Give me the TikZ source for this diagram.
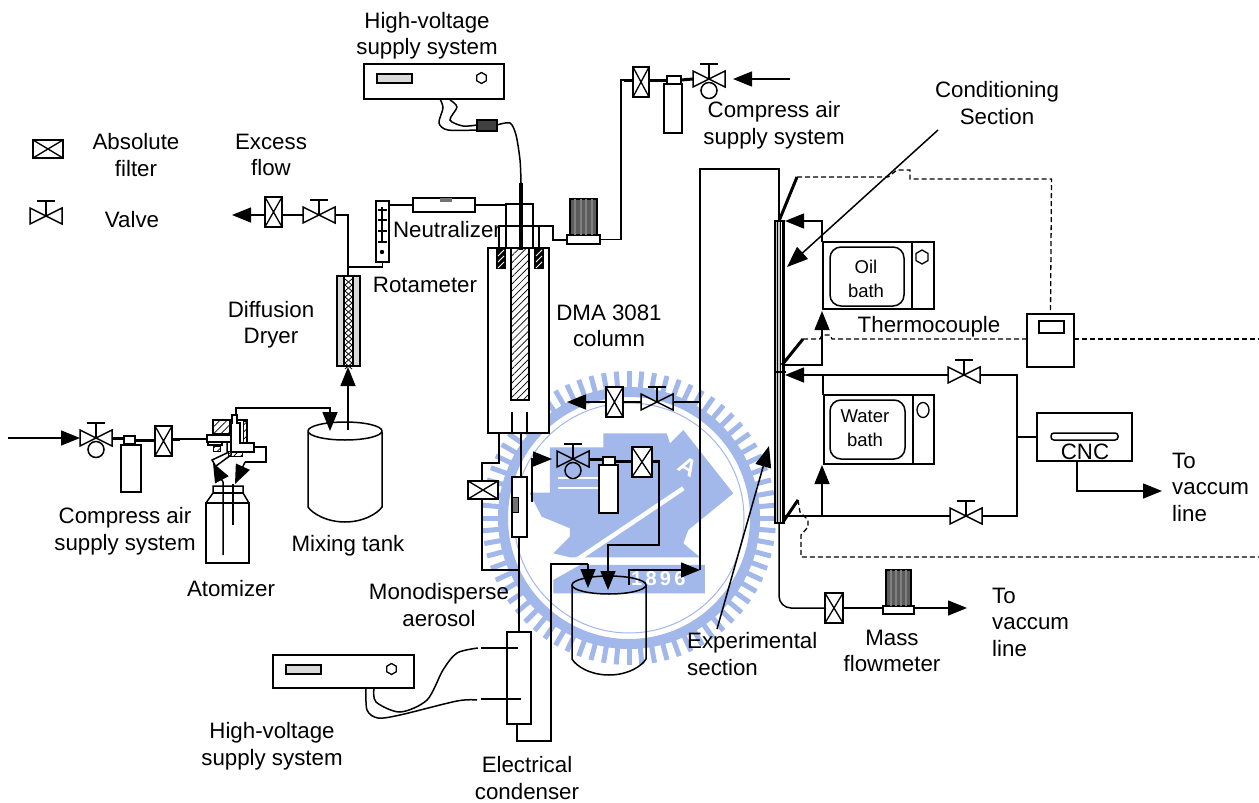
\documentclass[tikz,border=0pt]{standalone}
\usepackage{fontspec}
\setmainfont{Liberation Sans}
\usetikzlibrary{arrows.meta,patterns,patterns.meta,shapes.geometric,calc}
\definecolor{wmblue}{RGB}{162,184,234}
\tikzset{
  pipe/.style={line width=1.5pt,line join=miter},
  eq/.style={line width=1.5pt,line join=miter},
  heavy/.style={line width=3pt},
  flow/.style={pipe,-{Triangle[length=19pt,width=15pt]}},
  bx/.style={draw=black,line width=1.5pt,fill=white,rectangle,inner sep=0pt,outer sep=0pt},
  flt/.style={path picture={\draw[line width=1.3pt] (path picture bounding box.south west)--(path picture bounding box.north east) (path picture bounding box.north west)--(path picture bounding box.south east);}},
  vnode/.style={rectangle,inner sep=0pt,outer sep=0pt,minimum width=32pt,minimum height=16pt},
  lbl/.style={align=center,inner sep=0pt,font=\fontsize{22.3}{26.5}\selectfont},
  lbll/.style={align=left,inner sep=0pt,font=\fontsize{22.3}{26.5}\selectfont},
  small/.style={align=center,inner sep=0pt,font=\fontsize{18.5}{24.5}\selectfont},
  tc/.style={line width=1.3pt,dash pattern=on 5pt off 3pt},
  wm/.style={draw=wmblue},
  dots/.style={fill=gray!30},
  darkcol/.style={fill=black!64},
  hatch/.style={pattern={Lines[angle=45,distance=5pt,line width=.7pt]}},
}
\newcommand\rectnode[6][]{%
  \pgfmathsetmacro\rwid{#5-#3}\pgfmathsetmacro\rhei{#6-#4}%
  \node[bx,minimum width=\rwid pt,minimum height=\rhei pt,#1] (#2) at ({(#3+#5)/2},{(#4+#6)/2}) {};}
\newcommand\valve[3]{%
  \node[vnode] (#1) at (#2,#3) {};
  \draw[eq] (#1.south west)--(#1.north east)--(#1.south east)--(#1.north west)--cycle;
  \draw[eq] (#1.center)--++(0,-15) ++(-9,0)--++(18,0);}
\newcommand\regvalve[3]{\valve{#1}{#2}{#3}\draw[eq] (#2,#3+11.5) circle[radius=8pt];}
\newcommand\meter[5]{% name, base x1,y1,x2,y2 (column on top)
  \rectnode{#1}{#2}{#3}{#4}{#5}
  \pgfmathsetmacro\mcl{#2+3}\pgfmathsetmacro\mcr{#4-3}\pgfmathsetmacro\mct{#3-36}%
  \rectnode[darkcol]{#1col}{\mcl}{\mct}{\mcr}{#3}
  \foreach \q in {0.2,0.4,0.6,0.8}{\draw[black!50,line width=2pt] ($(\mcl,\mct)!\q!(\mcr,\mct)$) -- ($(\mcl,#3)!\q!(\mcr,#3)$);}}
\newcommand\supplybox[5]{% name, x1,y1,x2,y2
  \rectnode{#1}{#2}{#3}{#4}{#5}
  \pgfmathsetmacro\dxa{#2+13}\pgfmathsetmacro\dxb{#2+48}\pgfmathsetmacro\dya{#3+10}\pgfmathsetmacro\dyb{#3+19}\pgfmathsetmacro\hxx{#4-22.5}\pgfmathsetmacro\hyy{#3+14}%
  \rectnode[dots,line width=1.2pt]{#1d}{\dxa}{\dya}{\dxb}{\dyb}
  \node[regular polygon,regular polygon sides=6,shape border rotate=90,draw,line width=1.3pt,inner sep=0pt,minimum size=11pt] (#1k) at (\hxx,\hyy) {};}
\begin{document}
\begin{tikzpicture}[x=1pt,y=-1pt]
\useasboundingbox (0,0) rectangle (1259,803);
\fill[white] (0,0) rectangle (1259,803);
% ---------- watermark
\begin{scope}[shift={(629,518)}]
  \foreach \a in {0,5,...,355}{\draw[wm,line width=5pt] (\a:128pt)--(\a:147pt);}
  \draw[wm,line width=10pt] (0,0) circle[radius=126pt];
  \draw[wm,line width=1pt] (0,0) circle[radius=115pt];
\end{scope}
\begin{scope}[shift={(470,360)},x=0.3333pt,y=-0.3333pt]
  \fill[wmblue] (178,398)--(240,398)--(240,262)--(400,262)--(400,220)--(590,220)--(600,250)--(640,210)--(790,400)--(655,510)--(640,550)--(690,592)--(300,592)--(250,580)--(300,530)--(300,505)--(215,470)--cycle;
  \fill[wmblue] (330,615)--(705,615)--(705,700)--(250,700)--(250,660)--cycle;
  \draw[white,line width=4.5pt] (320,600)--(640,385);
  \draw[white,line width=2pt] (265,355)--(385,355) (265,385)--(385,385);
  \node[text=white,rotate=-30,inner sep=0pt,font=\bfseries\fontsize{24}{24}\selectfont] (wmA) at (655,320) {A};
  \node[text=white,inner sep=0pt,font=\bfseries\fontsize{20}{20}\selectfont] (wmY) at (565,657) {1\,8\,9\,6};
\end{scope}
% ---------- left: compressed air, atomizer, mixing tank
\coordinate (airL) at (8,438);
\regvalve{vL}{96}{438}
\draw[flow] (airL)--(vL.west);
\rectnode{regL}{124}{436}{135}{444}
\rectnode{cylL}{121}{445}{141}{492}
\rectnode[flt]{fL}{155}{426}{172}{456}
\draw[heavy] (vL.east)--(vL.east -| regL.west);
\draw[heavy] (regL.east)--(regL.east -| fL.west);
% atomizer head
\coordinate (noz) at (207,439);
\draw[heavy] (fL.east |- noz)--++(8,0);
\draw[pipe] (fL.east |- noz)--(noz);
\draw[eq,hatch] (213,420) rectangle (230,434);
\draw[eq] (213,420)--(247,420)--(247,443);
\draw[hatch] (243,421) rectangle (247,443);
\draw[hatch] (228,451) rectangle (242,456);
\draw[hatch] (213,446) rectangle (220,451);
\draw[eq,fill=white] (232,415)--(237,415)--(237,423)--(240,423)--(240,443)--(254,443)--(254,452)--(231,452)--(231,423)--(232,423)--cycle;
\node[bx,minimum width=24pt,minimum height=7pt] (nozb) at (219,438.5) {};
\draw[eq] (208,442) rectangle (222,445);
\draw[eq] (227,442)--(227,453)--(212,460)--(215,465);
\draw[eq] (231,442)--(231,455)--(216,466);
\draw[flow] (223,555)--(223,482)--(213,463);
\draw[pipe] (254,447)--(266,447)--(266,462)--(245,462);
\draw[flow] (245,462)--(235,484);
\coordinate (bottleIn) at (233,525);
\draw[pipe] (bottleIn)--(233,484);
\draw[eq] (206,503)--(206,563)--(249,563)--(249,503)--cycle;
\draw[eq] (206,503)--(213,493)--(213,486)--(243,486)--(243,493)--(249,503);
\draw[eq] (213,493)--(243,493);
% mixing tank
\draw[eq] (308,432)--(308,507) .. controls (312,513) and (326,522) .. (345,522) .. controls (364,522) and (378,513) .. (382,507)--(382,432);
\draw[eq] (345,431) ellipse[x radius=37pt,y radius=9pt];
\coordinate (mixIn) at (330,431);
\coordinate (mixOut) at (348,430);
\draw[flow] (236,415)--(236,408)--(330,408)--(mixIn);
% diffusion dryer
\rectnode[dots]{dry}{337}{276}{360}{366}
\fill[white] (344,277) rectangle (353,365);
\draw[line width=1.4pt] (344,276)--(344,366) (353,276)--(353,366);
\foreach \yy in {279,285,...,363}{\draw[line width=.8pt] (345,\yy)--(352,\yy+6) (352,\yy)--(345,\yy+6);}
\draw[flow] (mixOut)--(348,367);
% rotameter
\rectnode{rot}{376}{201}{389}{262}
\draw[line width=1.3pt] (382,207)--(382,243);
\foreach \yy in {210,220,231,242}{\draw[line width=1.3pt] (377.5,\yy)--(386.5,\yy);}
\fill (382,252) circle[radius=2.2pt];
\valve{vEx}{319}{215}
\rectnode[flt]{fEx}{265}{197}{282}{227}
\coordinate (exOut) at (232,215);
\draw[pipe] (vEx.east)--(348,215)--(348,276);
\draw[pipe] (rot.south)--(382.5,267)--(348,267);
\draw[pipe] (vEx.west)--(vEx.west -| fEx.east);
\draw[flow] (exOut -| fEx.west)--(exOut);
% ---------- top HV supply
\supplybox{hvT}{364}{64}{504}{99}
\rectnode[fill=black!75]{hvClip}{477}{120}{497}{131}
\draw[eq] plot[smooth] coordinates {(440,99) (443,108) (439,123) (448,130) (477,130)};
\draw[eq] plot[smooth] coordinates {(450,100) (457,107) (450,120) (463,126) (477,125)};
\coordinate (rodTop) at (521,183);
\draw[eq] plot[smooth] coordinates {(497,125) (510,123) (516,135) (520,160) (521,183)};
% neutralizer
\rectnode{neu}{413}{198}{475}{212}
\fill[black!55] (440,198) rectangle (452,201.5);
\draw[pipe] (neu.west -| rot.east)--(neu.west);
% DMA
\rectnode{dma}{488}{248}{549}{433}
\rectnode[hatch]{rodI}{511}{248}{529}{400}
\rectnode[fill=black]{sl1}{497}{248}{505}{268}
\rectnode[fill=black]{sl2}{535}{248}{543}{268}
\foreach \sx in {497,535}{\foreach \sy in {250,256,262}{\draw[white,line width=.9pt] (\sx+1,\sy+6)--(\sx+7,\sy);}}
\draw[pipe] (neu.east)--(506,205);
\draw[pipe] (506,248)--(506,204)--(533,204)--(533,248);
\coordinate (rodB) at (521,250);
\draw[line width=4pt] (rodTop)--(rodB);
\draw[pipe] (499,248)--(499,226)--(553,226)--(553,240)--(567,240);
\draw[pipe] (539,226)--(539,248);
\draw[pipe] (512,412)--(512,433) (527,412)--(527,433);
% flowmeter top
\meter{fmT}{567}{235}{600}{244}
\rectnode[flt]{fT}{633}{67}{649}{97}
\rectnode{regT}{667}{76}{681}{84}
\rectnode{cylT}{664}{84}{682}{133}
\valve{vT}{709}{79}
\draw[eq] (709,90.5) circle[radius=8pt];
\coordinate (airT) at (790,79);
\draw[flow] (airT)--(733,79);
\draw[heavy] (regT.east)--(vT.west);
\draw[heavy] (regT.west)--(regT.west -| fT.east);
\draw[pipe] (600,239.5)--(621,239.5)--(621,80)--(632,80);
\draw[heavy] (624,80)--(632,80);
% ---------- below DMA
\rectnode[flt]{fB}{468}{481}{498}{499}
\draw[pipe] (499,433)--(499,463)--(482,463)--(482,481);
\draw[pipe] (482,499)--(482,570)--(519,570);
\rectnode{ion}{512}{477}{527}{537}
\fill[black!55] (512,497) rectangle (518,512);
\draw (512,497) rectangle (518,512);
\draw[pipe] (521,433)--(521,477);
\rectnode{cond}{507}{632}{531}{724}
\draw[pipe] (519,537)--(519,632);
\draw[pipe] (517,724)--(517,741)--(551,741)--(551,564)--(588,564);
% small air system
\regvalve{vM}{573}{459}
\rectnode{regM}{603}{457}{615}{465}
\rectnode{cylM}{599}{465}{618}{513}
\rectnode[flt]{fM}{632}{447}{652}{477}
\coordinate (ionOut) at (532,502);
\draw[flow] (ionOut)--(532,459)--(552,459);
\draw[heavy] (vM.east)--(vM.east -| regM.west);
\draw[heavy] (regM.east)--(regM.east -| fM.west);
\draw[heavy] (652,461)--(660,461);
% condensation tank
\draw[eq] (572,585)--(572,659) .. controls (576,666) and (590,675) .. (609,675) .. controls (628,675) and (642,666) .. (646,659)--(646,585);
\draw[eq] (609,585) ellipse[x radius=37pt,y radius=9pt];
\draw[flow] (659,461)--(659,545)--(608,545)--(608,590);
\draw[flow] (588,564)--(588,588);
\draw[flow] (629,585)--(629,570)--(700,570);
% condenser wires & box
\coordinate (c1) at (518,648);
\coordinate (c2) at (521,699);
\draw[pipe] (481,648)--(c1);
\draw[pipe] (481,699)--(c2);
\supplybox{hvB}{273}{655}{414}{688}
\draw[eq] plot[smooth] coordinates {(366,687) (367,710) (378,718) (400,715) (457,701) (477,700)};
\draw[eq] plot[smooth] coordinates {(374,688) (376,702) (400,712) (427,700) (443,670) (457,653) (478,648)};
% ---------- exp column feed
\coordinate (colTop) at (779,221);
\draw[pipe] (700,570)--(700,169)--(779,169)--(colTop);
\valve{vD}{657}{402}
\rectnode[flt]{fD}{606}{387}{623}{417}
\coordinate (dmaIn) at (567,402);
\draw[pipe] (700,402)--(vD.east);
\draw[pipe] (vD.west)--(fD.east);
\draw[flow] (fD.west)--(dmaIn);
% column
\rectnode{col}{775}{221}{784}{523}
\fill[gray!45] (775,221) rectangle (780,523);
\draw[line width=1.2pt] (775,221) rectangle (784,523);
\draw[line width=1pt] (777.5,221)--(777.5,523) (780,221)--(780,523) (782,221)--(782,523);
\draw[line width=2pt] (775,372)--(786,372);
% oil bath
\rectnode{oil}{823}{242}{934}{309}
\draw[eq] (912,242)--(912,310);
\draw[eq,rounded corners=11pt] (830,247) rectangle (904,306);
\node[regular polygon,regular polygon sides=6,shape border rotate=90,draw,line width=1.3pt,inner sep=0pt,minimum size=14pt] (oilk) at (922,257) {};
\node[small] (oilt) at (866,279) {Oil\\bath};
% water bath
\rectnode{wat}{824}{395}{934}{464}
\draw[eq] (913,395)--(913,464);
\draw[eq,rounded corners=11pt] (830,400) rectangle (905,459);
\node[ellipse,draw,line width=1.3pt,inner sep=0pt,minimum width=12pt,minimum height=15pt] (watk) at (923,410) {};
\node[small] (watt) at (865,428) {Water\\bath};
% bath loops
\draw[flow] (822,242)--(822,221)--(785,221);
\coordinate (oilRet) at (782,365);
\draw[flow] (oilRet)--(822,365)--(822,311);
\valve{vC1}{964}{375}
\valve{vC2}{966}{516}
\coordinate (colMid) at (785,375);
\draw[flow] (vC1.west)--(colMid);
\draw[pipe] (823,375)--(823,395);
\coordinate (colLow) at (784,516);
\draw[pipe] (vC2.west)--(colLow);
\draw[flow] (822,516)--(822,465);
\draw[pipe] (vC1.east)--(1017,375)--(1017,516)--(vC2.east);
% cnc
\rectnode{cnc}{1037}{413}{1132}{461}
\draw[eq,rounded corners=3pt] (1051,433) rectangle (1118,440);
\draw[pipe] (1017,437)--(cnc.west);
\coordinate (vacR) at (1162,491);
\draw[flow] (1077,461)--(1077,491)--(vacR);
% exit
\rectnode[flt]{fE}{825}{593}{843}{623}
\meter{fmE}{883}{606}{914}{614}
\coordinate (vacE) at (967,608);
\draw[pipe,rounded corners=12pt] (779,523)--(779,608)--(825,608);
\draw[pipe] (fE.east)--(883,608);
\draw[flow] (914,608)--(vacE);
% thermocouples
\rectnode{ctrl}{1027}{314}{1074}{367}
\rectnode{ctrlD}{1039}{321}{1064}{333}
\draw[line width=3pt] (779,221)--(797,177);
\draw[line width=3pt] (782,365)--(803,339);
\draw[line width=3pt] (783,522)--(798,500);
\coordinate (edgeA) at (1259,339);
\coordinate (edgeB) at (1259,557);
\draw[tc] (797,177)--(888,177)--(897,170)--(910,170)--(910,179)--(1051.5,179)--(ctrl.north);
\draw[tc] (803,339)--(820,339)--(822,335)--(830,335)--(832,339)--(1027,339);
\draw[tc] (1074,339)--(edgeA);
\draw[tc] (798,500)--(800,512)--(808,520)--(808,527)--(801,535)--(801,557)--(edgeB);
% long pointers
\coordinate (cA) at (938,130);
\coordinate (cB) at (787,267);
\draw[pipe,-{Triangle[length=21pt,width=16pt]}] (cA)--(cB);
\coordinate (eA) at (717,629);
\coordinate (eB) at (769,446);
\draw[pipe,-{Triangle[length=21pt,width=16pt]}] (eA)--(eB);
% legend
\rectnode[flt]{fLeg}{33}{140}{63}{158}
\valve{vLeg}{46}{216}
% ---------- labels
\node[lbl] (t1) at (427,35.5) {High-voltage\\supply system};
\node[lbl] (t2) at (136,155) {Absolute\\filter};
\node[lbl] (t3) at (271,155) {Excess\\flow};
\node[lbl] (t4) at (132,220) {Valve};
\node[lbl] (t5) at (447,230) {Neutralizer};
\node[lbl] (t6) at (425,285) {Rotameter};
\node[lbl] (t7) at (271,324.5) {Diffusion\\Dryer};
\node[lbl] (t8) at (609,326) {DMA 3081\\column};
\node[lbl] (t9) at (774,125) {Compress air\\supply system};
\node[lbl] (t10) at (997,103) {Conditioning\\Section};
\node[lbl] (t11) at (929,327) {Thermocouple};
\node[lbl] (t12) at (1085,452) {CNC};
\node[lbll,anchor=west] (t13) at (1172,487) {To\\vaccum\\line};
\node[lbll,anchor=west] (t14) at (992,622) {To\\vaccum\\line};
\node[lbl] (t15) at (892,651) {Mass\\flowmeter};
\node[lbll,anchor=west] (t16) at (687,654) {Experimental\\section};
\node[lbl] (t17) at (439,605) {Monodisperse\\aerosol};
\node[lbl] (t18) at (125,531) {Compress air\\supply system};
\node[lbl] (t19) at (231,589) {Atomizer};
\node[lbl] (t20) at (348,546) {Mixing tank};
\node[lbl] (t21) at (272,746) {High-voltage\\supply system};
\node[lbl] (t22) at (527,778) {Electrical\\condenser};
\end{tikzpicture}
\end{document}
